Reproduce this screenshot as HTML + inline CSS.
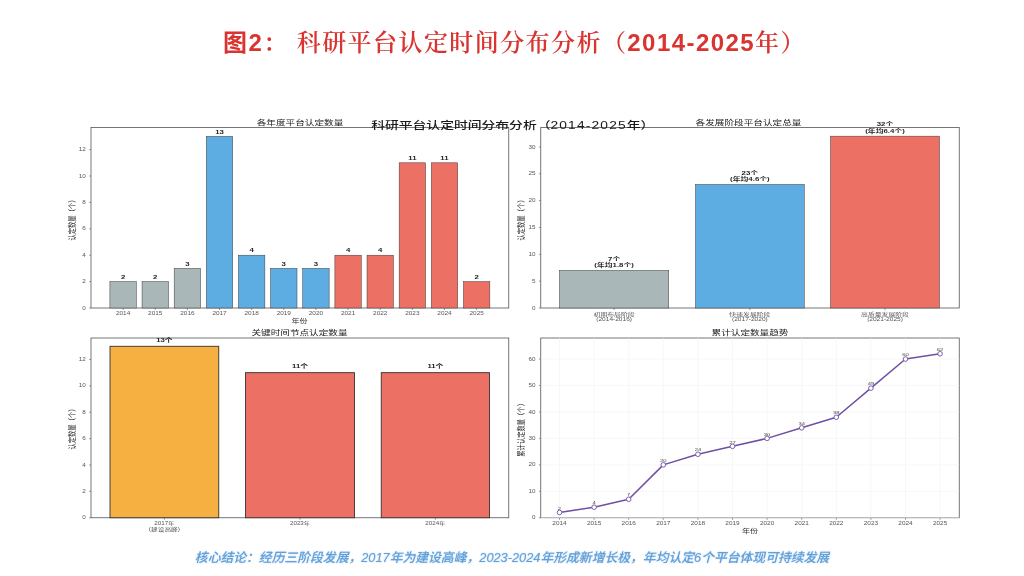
<!DOCTYPE html>
<html lang="zh-CN">
<head>
<meta charset="utf-8">
<title>图2： 科研平台认定时间分布分析（2014-2025年）</title>
<style>
html,body{margin:0;padding:0;background:#fff;}
body{width:1024px;height:576px;position:relative;overflow:hidden;font-family:'Liberation Sans', 'Noto Sans CJK SC', sans-serif;}
h1{position:absolute;left:223px;top:23px;margin:0;font-family:'Liberation Sans','Noto Serif CJK SC',serif;font-weight:bold;font-size:24px;line-height:40px;color:#d9342f;white-space:pre;letter-spacing:1.43px;}
p.note{position:absolute;left:0;top:548px;width:1024px;margin:0;text-align:center;font-size:12.8px;line-height:20px;color:#62a0da;font-weight:500;font-style:italic;white-space:nowrap;text-shadow:0 0 1.5px rgba(110,168,222,0.7);}
h1 .hei{font-family:'Liberation Sans','Noto Sans CJK SC',sans-serif;}
h1 .s{font-weight:600;}
svg{position:absolute;left:0;top:0;}
svg text{font-family:'Liberation Sans', 'Noto Sans CJK SC', sans-serif;}
</style>
</head>
<body>
<h1><span class="hei">图</span>2<span class="s">： 科研平台认定时间分布分析（</span>2014-2025<span class="s">年）</span></h1>
<svg width="1024" height="576" viewBox="0 0 1024 576">
<rect x="91.00" y="127.50" width="417.75" height="180.50" fill="#fff" stroke="#555" stroke-width="0.8"/>
<rect x="109.90" y="281.60" width="26.40" height="26.40" fill="#aab7b8" stroke="#3a3a3a" stroke-width="0.5"/>
<text transform="translate(123.10,278.80) scale(1.45,1)" font-size="5.4" text-anchor="middle" fill="#222" font-weight="bold">2</text>
<line x1="123.10" y1="308.00" x2="123.10" y2="310.00" stroke="#555" stroke-width="0.6"/>
<text transform="translate(123.10,315.20) scale(1.4,1)" font-size="4.6" text-anchor="middle" fill="#555" >2014</text>
<rect x="142.04" y="281.60" width="26.40" height="26.40" fill="#aab7b8" stroke="#3a3a3a" stroke-width="0.5"/>
<text transform="translate(155.24,278.80) scale(1.45,1)" font-size="5.4" text-anchor="middle" fill="#222" font-weight="bold">2</text>
<line x1="155.24" y1="308.00" x2="155.24" y2="310.00" stroke="#555" stroke-width="0.6"/>
<text transform="translate(155.24,315.20) scale(1.4,1)" font-size="4.6" text-anchor="middle" fill="#555" >2015</text>
<rect x="174.18" y="268.40" width="26.40" height="39.60" fill="#aab7b8" stroke="#3a3a3a" stroke-width="0.5"/>
<text transform="translate(187.38,265.60) scale(1.45,1)" font-size="5.4" text-anchor="middle" fill="#222" font-weight="bold">3</text>
<line x1="187.38" y1="308.00" x2="187.38" y2="310.00" stroke="#555" stroke-width="0.6"/>
<text transform="translate(187.38,315.20) scale(1.4,1)" font-size="4.6" text-anchor="middle" fill="#555" >2016</text>
<rect x="206.32" y="136.40" width="26.40" height="171.60" fill="#5dade2" stroke="#3a3a3a" stroke-width="0.5"/>
<text transform="translate(219.52,133.60) scale(1.45,1)" font-size="5.4" text-anchor="middle" fill="#222" font-weight="bold">13</text>
<line x1="219.52" y1="308.00" x2="219.52" y2="310.00" stroke="#555" stroke-width="0.6"/>
<text transform="translate(219.52,315.20) scale(1.4,1)" font-size="4.6" text-anchor="middle" fill="#555" >2017</text>
<rect x="238.46" y="255.20" width="26.40" height="52.80" fill="#5dade2" stroke="#3a3a3a" stroke-width="0.5"/>
<text transform="translate(251.66,252.40) scale(1.45,1)" font-size="5.4" text-anchor="middle" fill="#222" font-weight="bold">4</text>
<line x1="251.66" y1="308.00" x2="251.66" y2="310.00" stroke="#555" stroke-width="0.6"/>
<text transform="translate(251.66,315.20) scale(1.4,1)" font-size="4.6" text-anchor="middle" fill="#555" >2018</text>
<rect x="270.60" y="268.40" width="26.40" height="39.60" fill="#5dade2" stroke="#3a3a3a" stroke-width="0.5"/>
<text transform="translate(283.80,265.60) scale(1.45,1)" font-size="5.4" text-anchor="middle" fill="#222" font-weight="bold">3</text>
<line x1="283.80" y1="308.00" x2="283.80" y2="310.00" stroke="#555" stroke-width="0.6"/>
<text transform="translate(283.80,315.20) scale(1.4,1)" font-size="4.6" text-anchor="middle" fill="#555" >2019</text>
<rect x="302.74" y="268.40" width="26.40" height="39.60" fill="#5dade2" stroke="#3a3a3a" stroke-width="0.5"/>
<text transform="translate(315.94,265.60) scale(1.45,1)" font-size="5.4" text-anchor="middle" fill="#222" font-weight="bold">3</text>
<line x1="315.94" y1="308.00" x2="315.94" y2="310.00" stroke="#555" stroke-width="0.6"/>
<text transform="translate(315.94,315.20) scale(1.4,1)" font-size="4.6" text-anchor="middle" fill="#555" >2020</text>
<rect x="334.88" y="255.20" width="26.40" height="52.80" fill="#ec7063" stroke="#3a3a3a" stroke-width="0.5"/>
<text transform="translate(348.08,252.40) scale(1.45,1)" font-size="5.4" text-anchor="middle" fill="#222" font-weight="bold">4</text>
<line x1="348.08" y1="308.00" x2="348.08" y2="310.00" stroke="#555" stroke-width="0.6"/>
<text transform="translate(348.08,315.20) scale(1.4,1)" font-size="4.6" text-anchor="middle" fill="#555" >2021</text>
<rect x="367.02" y="255.20" width="26.40" height="52.80" fill="#ec7063" stroke="#3a3a3a" stroke-width="0.5"/>
<text transform="translate(380.22,252.40) scale(1.45,1)" font-size="5.4" text-anchor="middle" fill="#222" font-weight="bold">4</text>
<line x1="380.22" y1="308.00" x2="380.22" y2="310.00" stroke="#555" stroke-width="0.6"/>
<text transform="translate(380.22,315.20) scale(1.4,1)" font-size="4.6" text-anchor="middle" fill="#555" >2022</text>
<rect x="399.16" y="162.80" width="26.40" height="145.20" fill="#ec7063" stroke="#3a3a3a" stroke-width="0.5"/>
<text transform="translate(412.36,160.00) scale(1.45,1)" font-size="5.4" text-anchor="middle" fill="#222" font-weight="bold">11</text>
<line x1="412.36" y1="308.00" x2="412.36" y2="310.00" stroke="#555" stroke-width="0.6"/>
<text transform="translate(412.36,315.20) scale(1.4,1)" font-size="4.6" text-anchor="middle" fill="#555" >2023</text>
<rect x="431.30" y="162.80" width="26.40" height="145.20" fill="#ec7063" stroke="#3a3a3a" stroke-width="0.5"/>
<text transform="translate(444.50,160.00) scale(1.45,1)" font-size="5.4" text-anchor="middle" fill="#222" font-weight="bold">11</text>
<line x1="444.50" y1="308.00" x2="444.50" y2="310.00" stroke="#555" stroke-width="0.6"/>
<text transform="translate(444.50,315.20) scale(1.4,1)" font-size="4.6" text-anchor="middle" fill="#555" >2024</text>
<rect x="463.44" y="281.60" width="26.40" height="26.40" fill="#ec7063" stroke="#3a3a3a" stroke-width="0.5"/>
<text transform="translate(476.64,278.80) scale(1.45,1)" font-size="5.4" text-anchor="middle" fill="#222" font-weight="bold">2</text>
<line x1="476.64" y1="308.00" x2="476.64" y2="310.00" stroke="#555" stroke-width="0.6"/>
<text transform="translate(476.64,315.20) scale(1.4,1)" font-size="4.6" text-anchor="middle" fill="#555" >2025</text>
<line x1="89.20" y1="308.00" x2="91.00" y2="308.00" stroke="#555" stroke-width="0.6"/>
<text transform="translate(85.80,309.60) scale(1.38,1)" font-size="4.6" text-anchor="end" fill="#555" >0</text>
<line x1="89.20" y1="281.60" x2="91.00" y2="281.60" stroke="#555" stroke-width="0.6"/>
<text transform="translate(85.80,283.20) scale(1.38,1)" font-size="4.6" text-anchor="end" fill="#555" >2</text>
<line x1="89.20" y1="255.20" x2="91.00" y2="255.20" stroke="#555" stroke-width="0.6"/>
<text transform="translate(85.80,256.80) scale(1.38,1)" font-size="4.6" text-anchor="end" fill="#555" >4</text>
<line x1="89.20" y1="228.80" x2="91.00" y2="228.80" stroke="#555" stroke-width="0.6"/>
<text transform="translate(85.80,230.40) scale(1.38,1)" font-size="4.6" text-anchor="end" fill="#555" >6</text>
<line x1="89.20" y1="202.40" x2="91.00" y2="202.40" stroke="#555" stroke-width="0.6"/>
<text transform="translate(85.80,204.00) scale(1.38,1)" font-size="4.6" text-anchor="end" fill="#555" >8</text>
<line x1="89.20" y1="176.00" x2="91.00" y2="176.00" stroke="#555" stroke-width="0.6"/>
<text transform="translate(85.80,177.60) scale(1.38,1)" font-size="4.6" text-anchor="end" fill="#555" >10</text>
<line x1="89.20" y1="149.60" x2="91.00" y2="149.60" stroke="#555" stroke-width="0.6"/>
<text transform="translate(85.80,151.20) scale(1.38,1)" font-size="4.6" text-anchor="end" fill="#555" >12</text>
<text transform="translate(74.60,218.50) rotate(-90) scale(1.0,1.3)" font-size="6.3" text-anchor="middle" fill="#2a2a2a" >认定数量（个）</text>
<text transform="translate(299.50,323.00) scale(1.3,1)" font-size="6.2" text-anchor="middle" fill="#333" >年份</text>
<text transform="translate(300.00,125.30) scale(1.3,1)" font-size="7.4" text-anchor="middle" fill="#222" >各年度平台认定数量</text>
<rect x="540.75" y="127.50" width="418.50" height="180.50" fill="#fff" stroke="#555" stroke-width="0.8"/>
<rect x="559.50" y="270.41" width="109.25" height="37.59" fill="#aab7b8" stroke="#3a3a3a" stroke-width="0.5"/>
<text transform="translate(614.12,260.51) scale(1.45,1)" font-size="5.4" text-anchor="middle" fill="#222" font-weight="bold">7个</text>
<text transform="translate(614.12,266.91) scale(1.45,1)" font-size="5.4" text-anchor="middle" fill="#222" font-weight="bold">(年均1.8个)</text>
<line x1="614.12" y1="308.00" x2="614.12" y2="310.00" stroke="#555" stroke-width="0.6"/>
<text transform="translate(614.12,316.00) scale(1.43,1)" font-size="4.8" text-anchor="middle" fill="#555" >初期布局阶段</text>
<text transform="translate(614.12,321.30) scale(1.43,1)" font-size="4.6" text-anchor="middle" fill="#555" >(2014-2016)</text>
<rect x="695.50" y="184.49" width="108.75" height="123.51" fill="#5dade2" stroke="#3a3a3a" stroke-width="0.5"/>
<text transform="translate(749.88,174.59) scale(1.45,1)" font-size="5.4" text-anchor="middle" fill="#222" font-weight="bold">23个</text>
<text transform="translate(749.88,180.99) scale(1.45,1)" font-size="5.4" text-anchor="middle" fill="#222" font-weight="bold">(年均4.6个)</text>
<line x1="749.88" y1="308.00" x2="749.88" y2="310.00" stroke="#555" stroke-width="0.6"/>
<text transform="translate(749.88,316.00) scale(1.43,1)" font-size="4.8" text-anchor="middle" fill="#555" >快速发展阶段</text>
<text transform="translate(749.88,321.30) scale(1.43,1)" font-size="4.6" text-anchor="middle" fill="#555" >(2017-2020)</text>
<rect x="830.50" y="136.16" width="109.00" height="171.84" fill="#ec7063" stroke="#3a3a3a" stroke-width="0.5"/>
<text transform="translate(885.00,126.26) scale(1.45,1)" font-size="5.4" text-anchor="middle" fill="#222" font-weight="bold">32个</text>
<text transform="translate(885.00,132.66) scale(1.45,1)" font-size="5.4" text-anchor="middle" fill="#222" font-weight="bold">(年均6.4个)</text>
<line x1="885.00" y1="308.00" x2="885.00" y2="310.00" stroke="#555" stroke-width="0.6"/>
<text transform="translate(885.00,316.00) scale(1.43,1)" font-size="4.8" text-anchor="middle" fill="#555" >高质量发展阶段</text>
<text transform="translate(885.00,321.30) scale(1.43,1)" font-size="4.6" text-anchor="middle" fill="#555" >(2021-2025)</text>
<line x1="538.95" y1="308.00" x2="540.75" y2="308.00" stroke="#555" stroke-width="0.6"/>
<text transform="translate(535.55,309.60) scale(1.38,1)" font-size="4.6" text-anchor="end" fill="#555" >0</text>
<line x1="538.95" y1="281.15" x2="540.75" y2="281.15" stroke="#555" stroke-width="0.6"/>
<text transform="translate(535.55,282.75) scale(1.38,1)" font-size="4.6" text-anchor="end" fill="#555" >5</text>
<line x1="538.95" y1="254.30" x2="540.75" y2="254.30" stroke="#555" stroke-width="0.6"/>
<text transform="translate(535.55,255.90) scale(1.38,1)" font-size="4.6" text-anchor="end" fill="#555" >10</text>
<line x1="538.95" y1="227.45" x2="540.75" y2="227.45" stroke="#555" stroke-width="0.6"/>
<text transform="translate(535.55,229.05) scale(1.38,1)" font-size="4.6" text-anchor="end" fill="#555" >15</text>
<line x1="538.95" y1="200.60" x2="540.75" y2="200.60" stroke="#555" stroke-width="0.6"/>
<text transform="translate(535.55,202.20) scale(1.38,1)" font-size="4.6" text-anchor="end" fill="#555" >20</text>
<line x1="538.95" y1="173.75" x2="540.75" y2="173.75" stroke="#555" stroke-width="0.6"/>
<text transform="translate(535.55,175.35) scale(1.38,1)" font-size="4.6" text-anchor="end" fill="#555" >25</text>
<line x1="538.95" y1="146.90" x2="540.75" y2="146.90" stroke="#555" stroke-width="0.6"/>
<text transform="translate(535.55,148.50) scale(1.38,1)" font-size="4.6" text-anchor="end" fill="#555" >30</text>
<text transform="translate(524.20,218.50) rotate(-90) scale(1.0,1.3)" font-size="6.3" text-anchor="middle" fill="#2a2a2a" >认定数量（个）</text>
<text transform="translate(748.50,125.30) scale(1.3,1)" font-size="7.4" text-anchor="middle" fill="#222" >各发展阶段平台认定总量</text>
<rect x="91.00" y="338.00" width="417.75" height="179.75" fill="#fff" stroke="#555" stroke-width="0.8"/>
<rect x="110.00" y="346.28" width="108.75" height="171.47" fill="#f5b041" stroke="#333" stroke-width="0.9"/>
<text transform="translate(164.38,341.68) scale(1.3,1)" font-size="6" text-anchor="middle" fill="#222" font-weight="bold">13个</text>
<line x1="164.38" y1="517.75" x2="164.38" y2="519.75" stroke="#555" stroke-width="0.6"/>
<text transform="translate(164.38,525.25) scale(1.3,1)" font-size="4.8" text-anchor="middle" fill="#555" >2017年</text>
<text transform="translate(164.38,531.45) scale(1.4,1)" font-size="4.8" text-anchor="middle" fill="#555" >(建设高峰)</text>
<rect x="245.50" y="372.66" width="109.00" height="145.09" fill="#ec7063" stroke="#333" stroke-width="0.9"/>
<text transform="translate(300.00,368.06) scale(1.3,1)" font-size="6" text-anchor="middle" fill="#222" font-weight="bold">11个</text>
<line x1="300.00" y1="517.75" x2="300.00" y2="519.75" stroke="#555" stroke-width="0.6"/>
<text transform="translate(300.00,525.25) scale(1.3,1)" font-size="4.8" text-anchor="middle" fill="#555" >2023年</text>
<rect x="381.25" y="372.66" width="108.25" height="145.09" fill="#ec7063" stroke="#333" stroke-width="0.9"/>
<text transform="translate(435.38,368.06) scale(1.3,1)" font-size="6" text-anchor="middle" fill="#222" font-weight="bold">11个</text>
<line x1="435.38" y1="517.75" x2="435.38" y2="519.75" stroke="#555" stroke-width="0.6"/>
<text transform="translate(435.38,525.25) scale(1.3,1)" font-size="4.8" text-anchor="middle" fill="#555" >2024年</text>
<line x1="89.20" y1="517.75" x2="91.00" y2="517.75" stroke="#555" stroke-width="0.6"/>
<text transform="translate(85.80,519.35) scale(1.38,1)" font-size="4.6" text-anchor="end" fill="#555" >0</text>
<line x1="89.20" y1="491.37" x2="91.00" y2="491.37" stroke="#555" stroke-width="0.6"/>
<text transform="translate(85.80,492.97) scale(1.38,1)" font-size="4.6" text-anchor="end" fill="#555" >2</text>
<line x1="89.20" y1="464.99" x2="91.00" y2="464.99" stroke="#555" stroke-width="0.6"/>
<text transform="translate(85.80,466.59) scale(1.38,1)" font-size="4.6" text-anchor="end" fill="#555" >4</text>
<line x1="89.20" y1="438.61" x2="91.00" y2="438.61" stroke="#555" stroke-width="0.6"/>
<text transform="translate(85.80,440.21) scale(1.38,1)" font-size="4.6" text-anchor="end" fill="#555" >6</text>
<line x1="89.20" y1="412.23" x2="91.00" y2="412.23" stroke="#555" stroke-width="0.6"/>
<text transform="translate(85.80,413.83) scale(1.38,1)" font-size="4.6" text-anchor="end" fill="#555" >8</text>
<line x1="89.20" y1="385.85" x2="91.00" y2="385.85" stroke="#555" stroke-width="0.6"/>
<text transform="translate(85.80,387.45) scale(1.38,1)" font-size="4.6" text-anchor="end" fill="#555" >10</text>
<line x1="89.20" y1="359.47" x2="91.00" y2="359.47" stroke="#555" stroke-width="0.6"/>
<text transform="translate(85.80,361.07) scale(1.38,1)" font-size="4.6" text-anchor="end" fill="#555" >12</text>
<text transform="translate(74.60,427.50) rotate(-90) scale(1.0,1.3)" font-size="6.3" text-anchor="middle" fill="#2a2a2a" >认定数量（个）</text>
<text transform="translate(299.50,335.30) scale(1.3,1)" font-size="7.4" text-anchor="middle" fill="#222" >关键时间节点认定数量</text>
<rect x="540.75" y="338.00" width="418.50" height="179.75" fill="#fff" stroke="#555" stroke-width="0.8"/>
<line x1="559.50" y1="338.00" x2="559.50" y2="517.75" stroke="#f2f2f2" stroke-width="0.6"/>
<line x1="594.10" y1="338.00" x2="594.10" y2="517.75" stroke="#f2f2f2" stroke-width="0.6"/>
<line x1="628.70" y1="338.00" x2="628.70" y2="517.75" stroke="#f2f2f2" stroke-width="0.6"/>
<line x1="663.30" y1="338.00" x2="663.30" y2="517.75" stroke="#f2f2f2" stroke-width="0.6"/>
<line x1="697.90" y1="338.00" x2="697.90" y2="517.75" stroke="#f2f2f2" stroke-width="0.6"/>
<line x1="732.50" y1="338.00" x2="732.50" y2="517.75" stroke="#f2f2f2" stroke-width="0.6"/>
<line x1="767.10" y1="338.00" x2="767.10" y2="517.75" stroke="#f2f2f2" stroke-width="0.6"/>
<line x1="801.70" y1="338.00" x2="801.70" y2="517.75" stroke="#f2f2f2" stroke-width="0.6"/>
<line x1="836.30" y1="338.00" x2="836.30" y2="517.75" stroke="#f2f2f2" stroke-width="0.6"/>
<line x1="870.90" y1="338.00" x2="870.90" y2="517.75" stroke="#f2f2f2" stroke-width="0.6"/>
<line x1="905.50" y1="338.00" x2="905.50" y2="517.75" stroke="#f2f2f2" stroke-width="0.6"/>
<line x1="940.10" y1="338.00" x2="940.10" y2="517.75" stroke="#f2f2f2" stroke-width="0.6"/>
<line x1="540.75" y1="517.75" x2="959.25" y2="517.75" stroke="#f2f2f2" stroke-width="0.6"/>
<line x1="540.75" y1="491.30" x2="959.25" y2="491.30" stroke="#f2f2f2" stroke-width="0.6"/>
<line x1="540.75" y1="464.85" x2="959.25" y2="464.85" stroke="#f2f2f2" stroke-width="0.6"/>
<line x1="540.75" y1="438.40" x2="959.25" y2="438.40" stroke="#f2f2f2" stroke-width="0.6"/>
<line x1="540.75" y1="411.95" x2="959.25" y2="411.95" stroke="#f2f2f2" stroke-width="0.6"/>
<line x1="540.75" y1="385.50" x2="959.25" y2="385.50" stroke="#f2f2f2" stroke-width="0.6"/>
<line x1="540.75" y1="359.05" x2="959.25" y2="359.05" stroke="#f2f2f2" stroke-width="0.6"/>
<polyline fill="none" stroke="#6f4fa3" stroke-width="1.5" stroke-linejoin="round" points="559.50,512.46 594.10,507.17 628.70,499.24 663.30,464.85 697.90,454.27 732.50,446.33 767.10,438.40 801.70,427.82 836.30,417.24 870.90,388.14 905.50,359.05 940.10,353.76"/>
<circle cx="559.50" cy="512.46" r="2.3" fill="#fff" stroke="#6f4fa3" stroke-width="0.9"/>
<text transform="translate(559.50,509.66) scale(1.4,1)" font-size="4.2" text-anchor="middle" fill="#444" >2</text>
<circle cx="594.10" cy="507.17" r="2.3" fill="#fff" stroke="#6f4fa3" stroke-width="0.9"/>
<text transform="translate(594.10,504.37) scale(1.4,1)" font-size="4.2" text-anchor="middle" fill="#444" >4</text>
<circle cx="628.70" cy="499.24" r="2.3" fill="#fff" stroke="#6f4fa3" stroke-width="0.9"/>
<text transform="translate(628.70,496.44) scale(1.4,1)" font-size="4.2" text-anchor="middle" fill="#444" >7</text>
<circle cx="663.30" cy="464.85" r="2.3" fill="#fff" stroke="#6f4fa3" stroke-width="0.9"/>
<text transform="translate(663.30,462.05) scale(1.4,1)" font-size="4.2" text-anchor="middle" fill="#444" >20</text>
<circle cx="697.90" cy="454.27" r="2.3" fill="#fff" stroke="#6f4fa3" stroke-width="0.9"/>
<text transform="translate(697.90,451.47) scale(1.4,1)" font-size="4.2" text-anchor="middle" fill="#444" >24</text>
<circle cx="732.50" cy="446.33" r="2.3" fill="#fff" stroke="#6f4fa3" stroke-width="0.9"/>
<text transform="translate(732.50,443.53) scale(1.4,1)" font-size="4.2" text-anchor="middle" fill="#444" >27</text>
<circle cx="767.10" cy="438.40" r="2.3" fill="#fff" stroke="#6f4fa3" stroke-width="0.9"/>
<text transform="translate(767.10,435.60) scale(1.4,1)" font-size="4.2" text-anchor="middle" fill="#444" >30</text>
<circle cx="801.70" cy="427.82" r="2.3" fill="#fff" stroke="#6f4fa3" stroke-width="0.9"/>
<text transform="translate(801.70,425.02) scale(1.4,1)" font-size="4.2" text-anchor="middle" fill="#444" >34</text>
<circle cx="836.30" cy="417.24" r="2.3" fill="#fff" stroke="#6f4fa3" stroke-width="0.9"/>
<text transform="translate(836.30,414.44) scale(1.4,1)" font-size="4.2" text-anchor="middle" fill="#444" >38</text>
<circle cx="870.90" cy="388.14" r="2.3" fill="#fff" stroke="#6f4fa3" stroke-width="0.9"/>
<text transform="translate(870.90,385.34) scale(1.4,1)" font-size="4.2" text-anchor="middle" fill="#444" >49</text>
<circle cx="905.50" cy="359.05" r="2.3" fill="#fff" stroke="#6f4fa3" stroke-width="0.9"/>
<text transform="translate(905.50,356.25) scale(1.4,1)" font-size="4.2" text-anchor="middle" fill="#444" >60</text>
<circle cx="940.10" cy="353.76" r="2.3" fill="#fff" stroke="#6f4fa3" stroke-width="0.9"/>
<text transform="translate(940.10,350.96) scale(1.4,1)" font-size="4.2" text-anchor="middle" fill="#444" >62</text>
<line x1="559.50" y1="517.75" x2="559.50" y2="519.75" stroke="#555" stroke-width="0.6"/>
<text transform="translate(559.50,524.95) scale(1.4,1)" font-size="4.6" text-anchor="middle" fill="#555" >2014</text>
<line x1="594.10" y1="517.75" x2="594.10" y2="519.75" stroke="#555" stroke-width="0.6"/>
<text transform="translate(594.10,524.95) scale(1.4,1)" font-size="4.6" text-anchor="middle" fill="#555" >2015</text>
<line x1="628.70" y1="517.75" x2="628.70" y2="519.75" stroke="#555" stroke-width="0.6"/>
<text transform="translate(628.70,524.95) scale(1.4,1)" font-size="4.6" text-anchor="middle" fill="#555" >2016</text>
<line x1="663.30" y1="517.75" x2="663.30" y2="519.75" stroke="#555" stroke-width="0.6"/>
<text transform="translate(663.30,524.95) scale(1.4,1)" font-size="4.6" text-anchor="middle" fill="#555" >2017</text>
<line x1="697.90" y1="517.75" x2="697.90" y2="519.75" stroke="#555" stroke-width="0.6"/>
<text transform="translate(697.90,524.95) scale(1.4,1)" font-size="4.6" text-anchor="middle" fill="#555" >2018</text>
<line x1="732.50" y1="517.75" x2="732.50" y2="519.75" stroke="#555" stroke-width="0.6"/>
<text transform="translate(732.50,524.95) scale(1.4,1)" font-size="4.6" text-anchor="middle" fill="#555" >2019</text>
<line x1="767.10" y1="517.75" x2="767.10" y2="519.75" stroke="#555" stroke-width="0.6"/>
<text transform="translate(767.10,524.95) scale(1.4,1)" font-size="4.6" text-anchor="middle" fill="#555" >2020</text>
<line x1="801.70" y1="517.75" x2="801.70" y2="519.75" stroke="#555" stroke-width="0.6"/>
<text transform="translate(801.70,524.95) scale(1.4,1)" font-size="4.6" text-anchor="middle" fill="#555" >2021</text>
<line x1="836.30" y1="517.75" x2="836.30" y2="519.75" stroke="#555" stroke-width="0.6"/>
<text transform="translate(836.30,524.95) scale(1.4,1)" font-size="4.6" text-anchor="middle" fill="#555" >2022</text>
<line x1="870.90" y1="517.75" x2="870.90" y2="519.75" stroke="#555" stroke-width="0.6"/>
<text transform="translate(870.90,524.95) scale(1.4,1)" font-size="4.6" text-anchor="middle" fill="#555" >2023</text>
<line x1="905.50" y1="517.75" x2="905.50" y2="519.75" stroke="#555" stroke-width="0.6"/>
<text transform="translate(905.50,524.95) scale(1.4,1)" font-size="4.6" text-anchor="middle" fill="#555" >2024</text>
<line x1="940.10" y1="517.75" x2="940.10" y2="519.75" stroke="#555" stroke-width="0.6"/>
<text transform="translate(940.10,524.95) scale(1.4,1)" font-size="4.6" text-anchor="middle" fill="#555" >2025</text>
<line x1="538.95" y1="517.75" x2="540.75" y2="517.75" stroke="#555" stroke-width="0.6"/>
<text transform="translate(535.55,519.35) scale(1.38,1)" font-size="4.6" text-anchor="end" fill="#555" >0</text>
<line x1="538.95" y1="491.30" x2="540.75" y2="491.30" stroke="#555" stroke-width="0.6"/>
<text transform="translate(535.55,492.90) scale(1.38,1)" font-size="4.6" text-anchor="end" fill="#555" >10</text>
<line x1="538.95" y1="464.85" x2="540.75" y2="464.85" stroke="#555" stroke-width="0.6"/>
<text transform="translate(535.55,466.45) scale(1.38,1)" font-size="4.6" text-anchor="end" fill="#555" >20</text>
<line x1="538.95" y1="438.40" x2="540.75" y2="438.40" stroke="#555" stroke-width="0.6"/>
<text transform="translate(535.55,440.00) scale(1.38,1)" font-size="4.6" text-anchor="end" fill="#555" >30</text>
<line x1="538.95" y1="411.95" x2="540.75" y2="411.95" stroke="#555" stroke-width="0.6"/>
<text transform="translate(535.55,413.55) scale(1.38,1)" font-size="4.6" text-anchor="end" fill="#555" >40</text>
<line x1="538.95" y1="385.50" x2="540.75" y2="385.50" stroke="#555" stroke-width="0.6"/>
<text transform="translate(535.55,387.10) scale(1.38,1)" font-size="4.6" text-anchor="end" fill="#555" >50</text>
<line x1="538.95" y1="359.05" x2="540.75" y2="359.05" stroke="#555" stroke-width="0.6"/>
<text transform="translate(535.55,360.65) scale(1.38,1)" font-size="4.6" text-anchor="end" fill="#555" >60</text>
<text transform="translate(524.20,428.40) rotate(-90) scale(1.0,1.3)" font-size="6.3" text-anchor="middle" fill="#2a2a2a" >累计认定数量（个）</text>
<text transform="translate(750.00,533.00) scale(1.3,1)" font-size="6.2" text-anchor="middle" fill="#333" >年份</text>
<text transform="translate(750.00,335.30) scale(1.3,1)" font-size="7.4" text-anchor="middle" fill="#222" >累计认定数量趋势</text>
<text transform="translate(371.20,129.10) scale(1.353,1)" font-size="10.2" text-anchor="start" fill="#1a1a1a" font-weight="500">科研平台认定时间分布分析（<tspan letter-spacing="0.85">2014-2025</tspan>年）</text>
</svg>
<p class="note">核心结论：经历三阶段发展，2017年为建设高峰，2023-2024年形成新增长极，年均认定6个平台体现可持续发展</p>
</body>
</html>
